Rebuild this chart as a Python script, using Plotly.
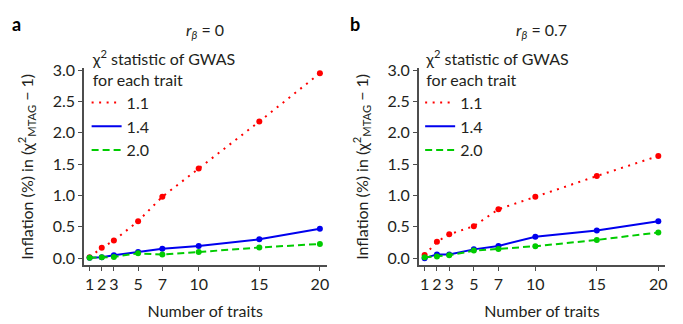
import plotly.graph_objects as go

# Number of traits analysed jointly
n_traits = [1, 2, 3, 5, 7, 10, 15, 20]

# GWAS chi-square levels per trait (legend entries)
chi2_levels = ["1.1", "1.4", "2.0"]

# Inflation (%) in (chi2_MTAG - 1), r_beta = 0
infl_r0_11 = [0.015, 0.165, 0.28, 0.59, 0.98, 1.43, 2.18, 2.95]
infl_r0_14 = [0.005, 0.015, 0.046, 0.10, 0.15, 0.195, 0.30, 0.47]
infl_r0_20 = [0.005, 0.015, 0.02, 0.077, 0.057, 0.098, 0.17, 0.226]

# Inflation (%) in (chi2_MTAG - 1), r_beta = 0.7
infl_r07_11 = [0.05, 0.26, 0.38, 0.51, 0.78, 0.98, 1.31, 1.63]
infl_r07_14 = [0.0, 0.06, 0.06, 0.14, 0.195, 0.34, 0.44, 0.59]
infl_r07_20 = [0.015, 0.026, 0.046, 0.12, 0.145, 0.19, 0.29, 0.41]

y_ticks = [0.0, 0.5, 1.0, 1.5, 2.0, 2.5, 3.0]
x_ticks = [1, 2, 3, 5, 7, 10, 15, 20]

panel_titles = ["<i>r</i><sub><i>β</i></sub> = 0", "<i>r</i><sub><i>β</i></sub> = 0.7"]
panel_letters = ["a", "b"]

FONT = "Lato, 'Open Sans', sans-serif"
TXT = "#231f20"
AX = "#4d4d4d"
W, H = 683, 324

styles = [
    dict(color="#ff0000", dash="2px,5.5px", width=2),
    dict(color="#0000ee", dash="solid", width=2),
    dict(color="#00cc00", dash="7px,4px", width=2),
]

panels = [
    dict(series=[infl_r0_11, infl_r0_14, infl_r0_20], xa="x", ya="y", leg="legend"),
    dict(series=[infl_r07_11, infl_r07_14, infl_r07_20], xa="x2", ya="y2", leg="legend2"),
]

fig = go.Figure()
for p in panels:
    for lvl, vals, st in zip(chi2_levels, p["series"], styles):
        # connecting line (shown in legend)
        fig.add_trace(go.Scatter(
            x=n_traits, y=vals, mode="lines", name=lvl,
            line=dict(color=st["color"], dash=st["dash"], width=st["width"]),
            xaxis=p["xa"], yaxis=p["ya"], legend=p["leg"], showlegend=True,
        ))
        # point markers
        fig.add_trace(go.Scatter(
            x=n_traits, y=vals, mode="markers",
            marker=dict(color=st["color"], size=6),
            xaxis=p["xa"], yaxis=p["ya"], showlegend=False, hoverinfo="skip",
        ))

x_domains = [[84.3 / W, 328 / W], [420.7 / W, 668 / W]]
y_domain = [(H - 264.7) / H, (H - 62) / H]

common_axis = dict(
    showline=True, linecolor=AX, linewidth=1.5, mirror=False,
    ticks="outside", ticklen=4, tickwidth=1.3, tickcolor=AX,
    showgrid=False, zeroline=False,
    tickfont=dict(family=FONT, size=16, color=TXT),
)

ytitle = "Inflation (%) in (χ<sup>2</sup><sub>MTAG</sub> − 1)"

layout = dict(
    width=W, height=H,
    margin=dict(l=0, r=0, t=0, b=0),
    paper_bgcolor="white", plot_bgcolor="white",
    font=dict(family=FONT, color=TXT),
    annotations=[],
)

for i, (xa, ya) in enumerate([("xaxis", "yaxis"), ("xaxis2", "yaxis2")]):
    layout[xa] = dict(
        common_axis, domain=x_domains[i], range=[0.53, 20.55],
        tickvals=x_ticks, ticktext=[str(t) for t in x_ticks],
        anchor="y" if i == 0 else "y2",
        title=dict(text="Number of traits", font=dict(family=FONT, size=16, color=TXT), standoff=14),
    )
    layout[ya] = dict(
        common_axis, domain=y_domain, range=[-0.115, 3.03],
        tickvals=y_ticks, ticktext=[f"{v:.1f}" for v in y_ticks],
        anchor="x" if i == 0 else "x2",
        title=dict(text=ytitle, font=dict(family=FONT, size=16, color=TXT), standoff=15),
    )
    cx = (x_domains[i][0] + x_domains[i][1]) / 2
    layout["annotations"].append(dict(
        text=panel_titles[i], x=cx, y=(H - 23) / H, xref="paper", yref="paper",
        xanchor="center", yanchor="middle", showarrow=False,
        font=dict(family=FONT, size=16, color=TXT),
    ))
    layout["annotations"].append(dict(
        text=f"<b>{panel_letters[i]}</b>", x=[10 / W, 350 / W][i], y=(H - 16) / H,
        xref="paper", yref="paper", xanchor="left", yanchor="middle", showarrow=False,
        font=dict(family=FONT, size=18, color="#000000"),
    ))

legend_common = dict(
    bgcolor="rgba(0,0,0,0)", borderwidth=0,
    font=dict(family=FONT, size=16, color=TXT),
    title=dict(text="&nbsp;χ<sup>2</sup> statistic of GWAS<br>&nbsp;for each trait",
               font=dict(family=FONT, size=16, color=TXT), side="top"),
    xanchor="left", yanchor="top", tracegroupgap=0,
)
layout["legend"] = dict(legend_common, x=87 / W, y=(H - 37) / H)
layout["legend2"] = dict(legend_common, x=422 / W, y=(H - 37) / H)

fig.update_layout(**layout)
fig.write_html("out.html")
